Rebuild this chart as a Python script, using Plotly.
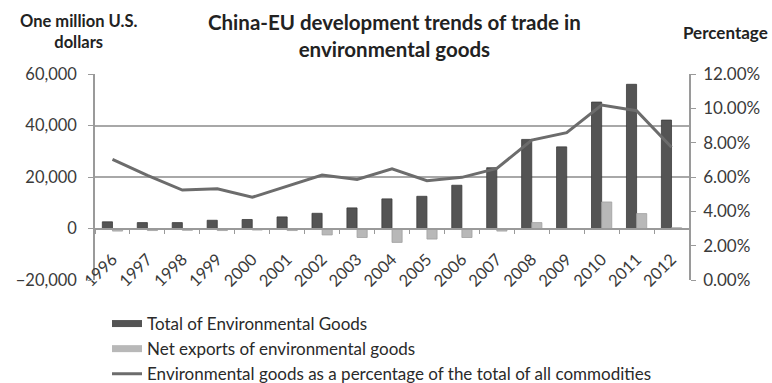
import plotly.graph_objects as go

# China-EU trade in environmental goods, 1996-2012
years = ["1996", "1997", "1998", "1999", "2000", "2001", "2002", "2003", "2004",
         "2005", "2006", "2007", "2008", "2009", "2010", "2011", "2012"]

# Million USD
total_goods = [2600, 2300, 2300, 3200, 3500, 4500, 5900, 8000, 11500,
               12500, 16800, 23600, 34600, 31700, 49100, 56000, 42100]
net_exports = [-1000, -800, -700, -800, -600, -800, -2500, -3500, -5400,
               -4100, -3500, -1000, 2300, -300, 10300, 5800, 300]

# Share of environmental goods in all commodities (fraction)
share_pct = [0.0703, 0.0610, 0.0524, 0.0532, 0.0482, 0.0547, 0.0611, 0.0586, 0.0648,
             0.0578, 0.0598, 0.0650, 0.0815, 0.0858, 0.1019, 0.0986, 0.0773]

names = ["Total of Environmental Goods",
         "Net exports of environmental goods",
         "Environmental goods as a percentage of the total of all commodities"]

FONT = "Lato"
AX = "#9a9a9a"
TXT = "#3a3a3a"
C_TOTAL, C_NET, C_LINE = "#545454", "#b8b8b8", "#6c6c6c"

# plot area in pixels: x 95..689, y 74..280
L, R, T, B = 95, 689, 74, 280


def px_x(px):
    return (px - L) / (R - L)


def px_y(py):
    return (B - py) / (B - T)


fig = go.Figure()
fig.add_trace(go.Bar(
    x=years, y=total_goods, name=names[0], showlegend=False,
    marker=dict(color=C_TOTAL, line=dict(color="#3c3c3c", width=0.8)),
))
fig.add_trace(go.Bar(
    x=years, y=net_exports, name=names[1], showlegend=False,
    marker=dict(color=C_NET, line=dict(color="#a0a0a0", width=0.8)),
))
fig.add_trace(go.Scatter(
    x=years, y=share_pct, yaxis="y2", mode="lines", name=names[2],
    showlegend=False, line=dict(color=C_LINE, width=3),
))

# legend keys: wide flat swatches for the bars, a thin stroke for the line
for nm, col, w in [(names[0], C_TOTAL, 7), (names[1], C_NET, 7), (names[2], C_LINE, 3)]:
    fig.add_trace(go.Scatter(
        x=[None], y=[None], mode="lines", name=nm,
        line=dict(color=col, width=w), legendgroup=nm,
    ))

fig.update_layout(
    width=772, height=383,
    margin=dict(l=L, r=772 - R, t=T, b=383 - B, autoexpand=False),
    paper_bgcolor="white", plot_bgcolor="white",
    font=dict(family=FONT, size=14, color=TXT),
    barmode="group", bargap=0.42, bargroupgap=0,
    showlegend=True,
    legend=dict(
        x=px_x(107), y=px_y(306),
        xanchor="left", yanchor="top",
        font=dict(family=FONT, size=17, color="#2a2a2a"),
        traceorder="grouped", tracegroupgap=0,
        bgcolor="rgba(0,0,0,0)",
    ),
    xaxis=dict(
        type="category",
        anchor="free", position=0.25,
        showline=True, linecolor=AX, linewidth=1.5,
        ticks="outside", tickson="boundaries", ticklen=5, tickcolor=AX,
        tickangle=-45, showgrid=False,
        tickfont=dict(family=FONT, size=16.5, color=TXT),
        ticklabelstandoff=14,
    ),
    yaxis=dict(
        range=[-20000, 60000], dtick=20000, tickformat=",",
        showline=True, linecolor=AX, linewidth=1.5,
        ticks="outside", ticklen=5, tickcolor=AX,
        showgrid=True, gridcolor="#a8a8a8", gridwidth=1.5,
        zeroline=False,
        tickfont=dict(family=FONT, size=16.5, color=TXT),
        ticklabelstandoff=8,
    ),
    yaxis2=dict(
        range=[0, 0.12], dtick=0.02, tickformat=".2%",
        overlaying="y", side="right",
        showline=True, linecolor=AX, linewidth=1.5,
        ticks="outside", ticklen=5, tickcolor=AX,
        showgrid=False, zeroline=False,
        tickfont=dict(family=FONT, size=17, color=TXT),
        ticklabelstandoff=4,
    ),
    annotations=[
        dict(text="<b>China-EU development trends of trade in<br>environmental goods</b>",
             xref="paper", yref="paper", x=px_x(394), y=px_y(8),
             xanchor="center", yanchor="top", showarrow=False,
             font=dict(family=FONT, size=20.5, color="#222222")),
        dict(text="<b>One million U.S.<br>dollars</b>",
             xref="paper", yref="paper", x=px_x(78), y=px_y(9),
             xanchor="center", yanchor="top", showarrow=False,
             font=dict(family=FONT, size=16.5, color="#222222")),
        dict(text="<b>Percentage</b>",
             xref="paper", yref="paper", x=px_x(725), y=px_y(20),
             xanchor="center", yanchor="top", showarrow=False,
             font=dict(family=FONT, size=17, color="#222222")),
    ],
)

fig.write_html("out.html")
